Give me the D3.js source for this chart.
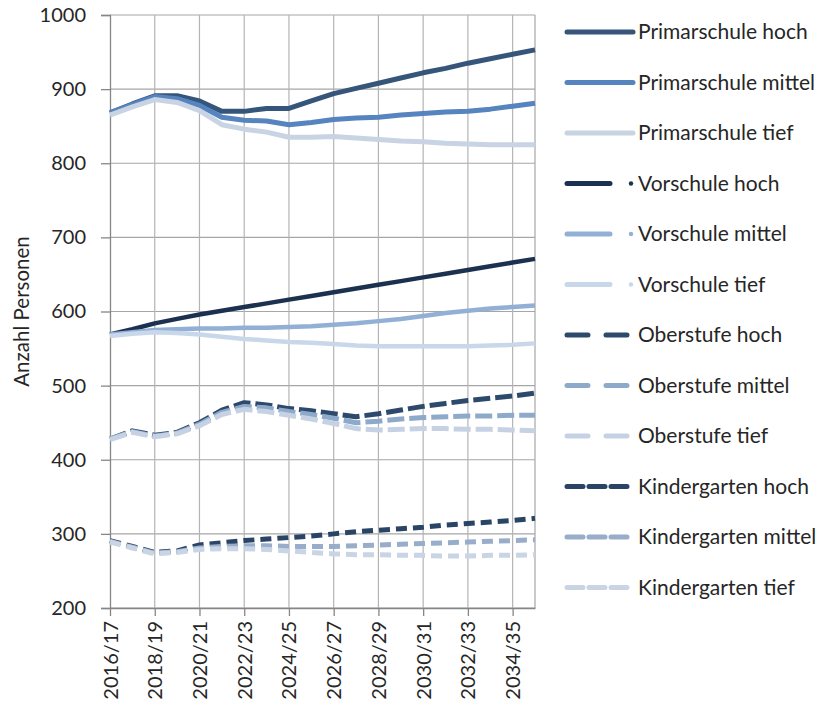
<!DOCTYPE html>
<html>
<head>
<meta charset="utf-8">
<script src="https://cdn.jsdelivr.net/npm/d3@7"></script>
<style>
  body { margin: 0; background: #fff; }
  text { font-family: Lato, "Open Sans", sans-serif; fill: #262626; }
</style>
</head>
<body>
<div id="chart"></div>
<script>
// school years on the x axis
var years = ["2016/17","2017/18","2018/19","2019/20","2020/21","2021/22","2022/23","2023/24","2024/25","2025/26",
             "2026/27","2027/28","2028/29","2029/30","2030/31","2031/32","2032/33","2033/34","2034/35","2035/36"];

var primarschuleHoch   = [868, 880, 891, 891, 884, 870, 870, 874, 874, 884, 894, 901, 908, 915, 922, 928, 935, 941, 947, 953];
var primarschuleMittel = [868, 879, 890, 887, 878, 862, 858, 857, 852, 855, 859, 861, 862, 865, 867, 869, 870, 873, 877, 881];
var primarschuleTief   = [865, 876, 886, 882, 871, 852, 846, 842, 835, 835, 836, 834, 832, 830, 829, 827, 826, 825, 825, 825];

var vorschuleHoch   = [569, 576, 584, 590, 596, 601, 606, 611, 616, 621, 626, 631, 636, 641, 646, 651, 656, 661, 666, 671];
var vorschuleMittel = [569, 572, 575, 576, 577, 577, 578, 578, 579, 580, 582, 584, 587, 590, 594, 598, 601, 604, 606, 608];
var vorschuleTief   = [567, 570, 572, 571, 569, 566, 563, 561, 559, 558, 556, 554, 553, 553, 553, 553, 553, 554, 555, 557];

var oberstufeHoch   = [428, 439, 433, 437, 450, 467, 477, 474, 469, 466, 462, 458, 462, 467, 472, 476, 480, 483, 486, 490];
var oberstufeMittel = [428, 438, 432, 436, 448, 464, 472, 470, 465, 461, 456, 450, 452, 455, 457, 458, 459, 459, 460, 460];
var oberstufeTief   = [427, 437, 431, 435, 446, 461, 468, 465, 460, 455, 449, 442, 440, 441, 442, 442, 441, 441, 440, 439];

var kindergartenHoch   = [291, 283, 275, 277, 285, 288, 291, 293, 295, 297, 300, 303, 305, 307, 309, 312, 314, 316, 318, 321];
var kindergartenMittel = [290, 282, 274, 276, 281, 283, 284, 284, 283, 283, 283, 284, 285, 286, 287, 288, 289, 290, 291, 292];
var kindergartenTief   = [289, 281, 273, 275, 279, 280, 280, 279, 277, 275, 273, 272, 272, 271, 271, 270, 270, 271, 271, 272];

var seriesNames = ["Primarschule hoch","Primarschule mittel","Primarschule tief",
                   "Vorschule hoch","Vorschule mittel","Vorschule tief",
                   "Oberstufe hoch","Oberstufe mittel","Oberstufe tief",
                   "Kindergarten hoch","Kindergarten mittel","Kindergarten tief"];
var seriesValues = [primarschuleHoch, primarschuleMittel, primarschuleTief,
                    vorschuleHoch, vorschuleMittel, vorschuleTief,
                    oberstufeHoch, oberstufeMittel, oberstufeTief,
                    kindergartenHoch, kindergartenMittel, kindergartenTief];
var yTicks = [200, 300, 400, 500, 600, 700, 800, 900, 1000];

// look of each series (kind: solid / dot / long / short)
var looks = [
    {color: "#36557a", kind: "solid"}, {color: "#5684bf", kind: "solid"}, {color: "#c8d3e4", kind: "solid"},
    {color: "#1c3150", kind: "dot"},   {color: "#92afd6", kind: "dot"},   {color: "#c9d7eb", kind: "dot"},
    {color: "#2d4a6c", kind: "long"},  {color: "#8eaacb", kind: "long"},  {color: "#c6d2e3", kind: "long"},
    {color: "#2a4466", kind: "short"}, {color: "#98adc9", kind: "short"}, {color: "#c9d4e5", kind: "short"}
];
var plotDash = {solid: null, dot: null, long: "17,5", short: "11,6"};
var legendDash = {solid: null, dot: null, long: "21,18", short: "16,6"};

var totalWidth = 820, totalHeight = 702;
var margin = {left: 110, top: 15};
var width = 425, height = 593;

var svg = d3.select("#chart").append("svg")
    .attr("width", totalWidth)
    .attr("height", totalHeight);

var g = svg.append("g").attr("transform", "translate(" + margin.left + "," + margin.top + ")");

var xScale = d3.scalePoint().domain(years).range([0, width]);
var yScale = d3.scaleLinear().domain([200, 1000]).range([height, 0]);

var labelYears = years.filter(function(d, i){ return i % 2 == 0; });

// grid
g.append("g").selectAll("line").data(yTicks).enter().append("line")
    .attr("x1", 0).attr("x2", width)
    .attr("y1", function(d){ return yScale(d); }).attr("y2", function(d){ return yScale(d); })
    .attr("stroke", "#a6a6a6").attr("stroke-width", 1.2);
g.append("g").selectAll("line").data(labelYears.slice(1)).enter().append("line")
    .attr("x1", function(d){ return xScale(d); }).attr("x2", function(d){ return xScale(d); })
    .attr("y1", 0).attr("y2", height)
    .attr("stroke", "#b4b4b4").attr("stroke-width", 1.2);
g.append("line").attr("x1", width).attr("x2", width).attr("y1", 0).attr("y2", height)
    .attr("stroke", "#a6a6a6").attr("stroke-width", 1.2);

// axes
var yAxis = g.append("g")
    .call(d3.axisLeft(yScale).tickValues(yTicks).tickSize(9).tickPadding(15).tickFormat(d3.format("d")));
yAxis.selectAll("text").style("font-size", "20px");

var xAxis = g.append("g")
    .attr("transform", "translate(0," + height + ")")
    .call(d3.axisBottom(xScale).tickValues(labelYears).tickSize(8).tickSizeOuter(0));
xAxis.selectAll("text")
    .style("font-size", "20px")
    .attr("text-anchor", "end")
    .attr("transform", "rotate(-90)")
    .attr("x", -13).attr("y", 0).attr("dy", "0.35em");

[yAxis, xAxis].forEach(function(a){
    a.select(".domain").attr("stroke", "#868686").attr("stroke-width", 1.3);
    a.selectAll(".tick line").attr("stroke", "#868686").attr("stroke-width", 1.3);
});

// y title
svg.append("text")
    .attr("transform", "translate(29," + (margin.top + height / 2) + ") rotate(-90)")
    .attr("text-anchor", "middle")
    .style("font-size", "20.5px")
    .text("Anzahl Personen");

// lines
var line = d3.line()
    .x(function(d, i){ return xScale(years[i]); })
    .y(function(d){ return yScale(d); });

g.append("g").selectAll("path").data(seriesValues).enter().append("path")
    .attr("d", function(d){ return line(d); })
    .attr("fill", "none")
    .attr("stroke", function(d, i){ return looks[i].color; })
    .attr("stroke-width", function(d, i){ return looks[i].kind == "dot" ? 4.5 : 5; })
    .attr("stroke-dasharray", function(d, i){ return plotDash[looks[i].kind]; })
    .attr("stroke-linejoin", "round");

// legend
var legend = svg.append("g").attr("transform", "translate(567,32)");
var items = legend.selectAll("g").data(seriesNames).enter().append("g")
    .attr("transform", function(d, i){ return "translate(0," + (i * 50.5) + ")"; });

items.append("line")
    .attr("x1", 0)
    .attr("x2", function(d, i){
        var k = looks[i].kind;
        return k == "dot" ? 43 : (k == "solid" ? 66 : 61);
    })
    .attr("stroke", function(d, i){ return looks[i].color; })
    .attr("stroke-width", 5)
    .attr("stroke-linecap", "round")
    .attr("stroke-dasharray", function(d, i){ return legendDash[looks[i].kind]; });

items.filter(function(d, i){ return looks[i].kind == "dot"; })
    .append("circle")
    .attr("cx", 64).attr("r", 2.2)
    .attr("fill", function(d){ return looks[seriesNames.indexOf(d)].color; });

items.append("text")
    .attr("x", 71).attr("dy", "0.35em")
    .style("font-size", "21px")
    .text(function(d){ return d; });
</script>
</body>
</html>
